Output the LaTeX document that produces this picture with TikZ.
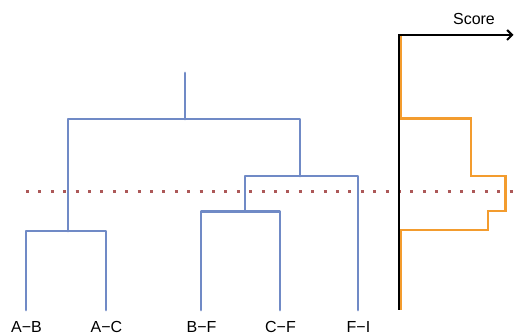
\documentclass[tikz,border=0pt]{standalone}
\usepackage{fontspec}
\setmainfont{Liberation Sans}
\usetikzlibrary{arrows.meta}
\definecolor{dblue}{RGB}{112,138,198}
\definecolor{sorange}{RGB}{243,156,46}
\definecolor{dotred}{RGB}{172,88,88}
\tikzset{
  dend/.style={draw=dblue, line width=2.8pt, line join=round, line cap=round},
  leaflabel/.style={font=\fontsize{16}{18}\selectfont, inner sep=0pt, anchor=center},
  axisline/.style={draw=black, line width=2.5pt},
  scoreline/.style={draw=sorange, line width=2.8pt, line join=miter},
  cutline/.style={draw=dotred, line width=3pt, dash pattern=on 3pt off 9.4pt}
}
\begin{document}
\begin{tikzpicture}[x=1pt,y=-1pt]
\useasboundingbox (0,0) rectangle (515,336);
% leaves
\coordinate (lAB) at (26,310);
\coordinate (lAC) at (106,310);
\coordinate (lBF) at (201,310);
\coordinate (lCF) at (280,310);
\coordinate (lFI) at (358,310);
% junctions
\coordinate (j1) at (68,231);
\coordinate (j2) at (245,211.5);
\coordinate (j3) at (300,176);
\coordinate (root) at (185,119);
\coordinate (top) at (185,73);
% dendrogram
\draw[dend] (lAB) |- (j1) -| (lAC);
\draw[dend] (lBF) |- (j2) -| (lCF);
\draw[dend] (j2) |- (j3) -| (lFI);
\draw[dend] (j1) |- (root) -| (j3);
\draw[dend] (root) -- (top);
% labels
\node[leaflabel] (tAB) at (26.5,326.5) {A−B};
\node[leaflabel] (tAC) at (106.5,326.5) {A−C};
\node[leaflabel] (tBF) at (201.5,326.5) {B−F};
\node[leaflabel] (tCF) at (280.5,326.5) {C−F};
\node[leaflabel] (tFI) at (358.5,326.5) {F−I};
% cut line
\coordinate (c0) at (26,191.5);
\coordinate (c1) at (515,191.5);
\draw[cutline] (c0) -- (c1);
% axis
\coordinate (ax0) at (399,310);
\coordinate (ax1) at (399,35);
\coordinate (ax2) at (513.5,35);
\draw[axisline, -{Straight Barb[length=5pt,width=10pt,line width=2pt]}] (ax0) -- (ax1) -- (ax2);
\node[font=\fontsize{16}{18}\selectfont, inner sep=0pt] (score) at (474,18.5) {Score};
% score curve
\draw[scoreline] (401,36) -- (401,118.5) -- (471,118.5) -- (471,176) -- (505.5,176)
  -- (505.5,211) -- (488,211) -- (488,230) -- (401,230) -- (401,310);
\end{tikzpicture}
\end{document}
